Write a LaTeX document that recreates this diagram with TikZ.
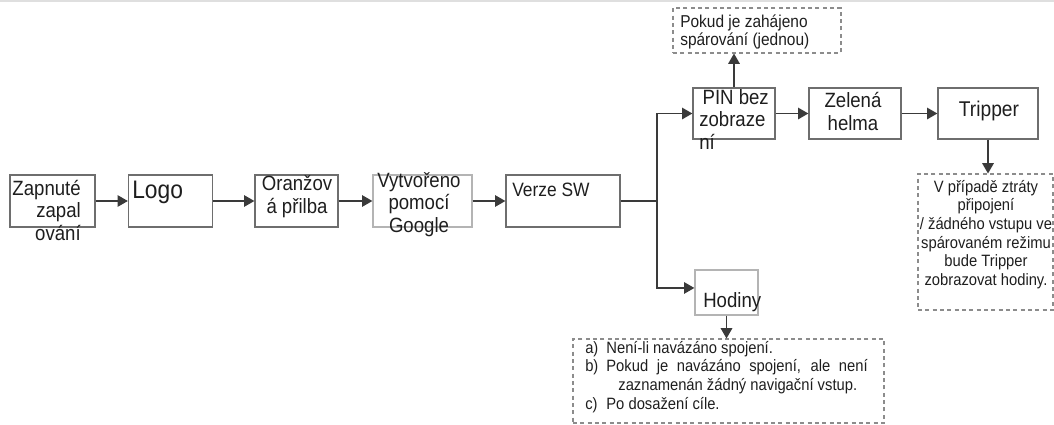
\documentclass[tikz,border=0pt]{standalone}
\usepackage{fontspec}
\setmainfont[FakeStretch=0.9]{Liberation Sans}
\usetikzlibrary{arrows}

\definecolor{edgec}{HTML}{6E6E6E}
\definecolor{palec}{HTML}{B4B4B4}
\definecolor{dashc}{HTML}{8C8C8C}
\definecolor{linkc}{HTML}{3A3A3A}
\definecolor{ink}{HTML}{1E1E1E}

\tikzset{
  box/.style 2 args={draw=edgec, line width=1pt, inner sep=0pt,
    minimum width=#1*0.75pt, minimum height=#2*0.75pt},
  note/.style 2 args={draw=dashc, line width=0.8pt, dash pattern=on 3pt off 2.5pt,
    inner sep=0pt, minimum width=#1*0.75pt, minimum height=#2*0.75pt},
  lbl/.style={text=ink, inner sep=0pt, font=\fontsize{15.5}{16.8}\selectfont},
  small/.style={text=ink, inner sep=0pt, font=\fontsize{12.3}{14}\selectfont},
  wire/.style={draw=linkc, line width=1.1pt},
  flow/.style={wire, ->, >=triangle 60},
}

\begin{document}
\begin{tikzpicture}[x=0.75pt,y=-0.75pt]
\useasboundingbox (0,0) rectangle (1054,425);
\draw[gray!25, line width=0.8pt] (0,1) -- (1054,1);

\node[box={85}{52}] (zap) at (52.5,201) {};
\node[box={84}{52}] (logo) at (170.5,201) {};
\node[box={83}{52}] (oran) at (296.5,201) {};
\node[box={99}{52}, draw=palec] (vyt) at (422.5,201) {};
\node[box={114}{52}] (verze) at (563,201) {};
\node[box={82}{51}] (pin) at (734,113.5) {};
\node[box={92}{51}] (zel) at (855,113.5) {};
\node[box={100}{51}] (trip) at (988,113.5) {};
\node[box={63}{45}, draw=palec] (hod) at (726.5,292.5) {};

\node[note={168}{45}] (pokud) at (757,30.5) {};
\node[note={135}{136}] (ztraty) at (985.5,242) {};
\node[note={311}{84}] (list) at (728.5,381) {};

\node[lbl, align=right, anchor=base east] (zap-t) at (81,240) {Zapnuté\\zapal\\ování};
\node[lbl, font=\fontsize{19}{20}\selectfont, anchor=base west] (logo-t) at (132,198) {Logo};
\node[lbl, align=center, anchor=base] (oran-t) at (297,213) {Oranžov\\á přilba};
\node[lbl, align=center, anchor=base] (vyt-t) at (419,232) {Vytvořeno\\pomocí\\Google};
\node[lbl, font=\fontsize{14.5}{16}\selectfont, anchor=base west] (verze-t) at (512,196) {Verze SW};
\node[lbl, align=left, anchor=base west] (pin-t) at (699,149) {\hspace*{2.5pt}PIN bez\\zobraze\\ní};
\node[lbl, align=center, anchor=base] (zel-t) at (853,130) {Zelená\\helma};
\node[lbl, font=\fontsize{16}{18}\selectfont, anchor=base] (trip-t) at (989,116) {Tripper};
\node[lbl, anchor=base west] (hod-t) at (703,307) {Hodiny};

\node[small, font=\fontsize{12.9}{13.5}\selectfont, align=left, anchor=base west] (pokud-t) at (680,45) {Pokud je zahájeno\\spárování (jednou)};
\node[small, align=center, anchor=base] (ztraty-t) at (986,285.5) {V případě ztráty\\připojení\\/ žádného vstupu ve\\spárovaném režimu\\bude Tripper\\zobrazovat hodiny.};
\node[small, anchor=base west] (list-t) at (585,353) {\begin{tabular}[t]{@{}l@{\hspace{6pt}}l@{}}
a) & Není-li navázáno spojení.\\
b) & \makebox[196pt][s]{Pokud je navázáno spojení, ale není}\\
   & \hspace*{9pt}zaznamenán žádný navigační vstup.\\
c) & Po dosažení cíle.
\end{tabular}};

\coordinate (split) at (657,201);
\draw[flow] (zap) -- (logo);
\draw[flow] (logo) -- (oran);
\draw[flow] (oran) -- (vyt);
\draw[flow] (vyt) -- (verze);
\draw[wire] (verze) -- (split);
\draw[flow] (split) |- (pin);
\draw[flow] (split) |- ([yshift=3.4pt]hod.west);
\draw[flow] (pin) -- (zel);
\draw[flow] (zel) -- (trip);
\draw[flow] (pin.north) -- (pin.north |- pokud.south);
\draw[flow] (trip.south) -- (trip.south |- ztraty.north);
\draw[flow] (hod.south) -- (hod.south |- list.north);
\end{tikzpicture}
\end{document}
